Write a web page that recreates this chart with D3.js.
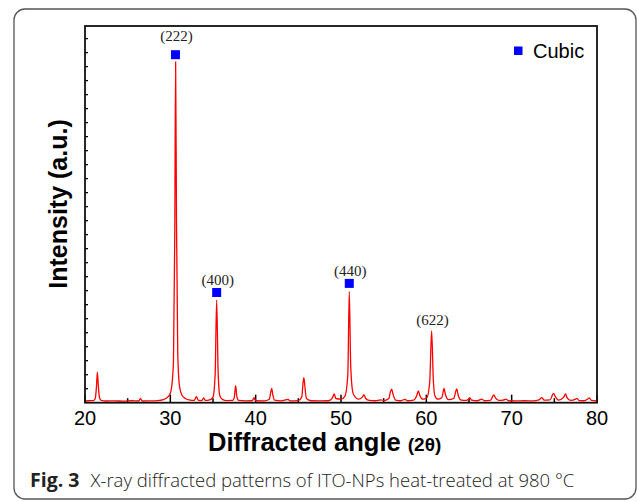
<!DOCTYPE html>
<html>
<head>
<meta charset="utf-8">
<script src="https://cdn.jsdelivr.net/npm/d3@7"></script>
<style>
  body { margin: 0; background: #fff; }
  svg { display: block; }
</style>
</head>
<body>
<svg id="chart" width="637" height="502"></svg>
<script>
// angle (2θ) and intensity (a.u.)
let angles = [20.0,20.5,21.0,21.2,21.35,21.45,21.55,21.7,21.9,22.5,23.5,24.5,25.5,26.3,26.5,26.7,27.5,28.5,
  29.2,29.6,29.95,30.15,30.37,30.52,30.62,30.72,30.87,31.07,31.35,31.75,32.2,32.8,33.05,33.3,33.7,33.9,34.1,34.6,
  35.0,35.25,35.43,35.6,35.8,36.1,36.6,37.3,37.5,37.65,37.8,38.0,38.8,39.6,39.8,40.0,41.0,41.6,41.75,41.88,
  42.0,42.2,43.0,43.8,44.0,45.0,45.4,45.55,45.65,45.78,45.95,46.5,47.5,48.5,49.0,49.2,49.4,50.0,50.45,50.8,
  50.97,51.14,51.4,51.7,52.05,52.5,52.7,52.9,53.3,54.0,54.7,55.0,55.6,55.8,55.94,56.1,56.4,57.0,57.5,57.8,
  58.5,58.9,59.06,59.25,59.6,60.05,60.4,60.62,60.82,61.0,61.35,61.8,62.0,62.07,62.25,62.6,63.2,63.45,63.56,63.75,
  64.1,64.7,65.0,65.1,65.3,66.0,66.5,66.8,67.5,67.9,68.1,68.5,69.0,69.35,69.6,70.5,71.5,72.5,73.2,73.55,
  73.8,74.5,74.9,75.1,75.5,76.1,76.3,76.5,76.9,77.5,77.65,77.9,78.5,79.0,79.1,79.35,80.0];
let intensity = [12,14,15,30,120,219,130,35,16,12,13,11,14,12,30,12,13,15,
  22,35,60,110,300,1200,2434,1300,350,120,55,30,20,16,43,16,15,34,16,20,
  40,200,733,220,50,24,15,16,40,121,42,16,13,14,36,14,13,25,70,103,
  60,18,13,24,13,15,40,140,179,110,30,14,13,14,35,62,30,25,45,200,
  793,260,70,38,25,40,55,30,16,14,20,15,30,80,96,60,18,14,24,14,
  18,55,84,50,25,35,150,512,160,50,25,35,85,103,55,22,30,80,98,50,
  18,16,30,36,18,14,26,14,16,55,35,16,18,26,14,13,14,13,20,36,
  18,20,67,45,18,40,62,35,16,25,31,15,14,30,34,16,12];

// indexed peaks: label, angle, marker intensity, label intensity
let peakNames = ["(222)", "(400)", "(440)", "(622)"];
let peakAngles = [30.6, 35.43, 50.97, 60.62];
let markerLevel = [2485, 787, 852, null];
let labelLevel = [2585, 844, 907, 556];

let xTicks = [20, 30, 40, 50, 60, 70, 80];
let xMinor = [25, 35, 45, 55, 65, 75];
let yTicks = d3.range(100, 2700, 100);

let svg = d3.select("#chart");
let margin = {top: 26, right: 40, bottom: 99.3, left: 85};
let W = 637, H = 502;
let iw = W - margin.left - margin.right;
let ih = H - margin.top - margin.bottom;

// outer figure frame
svg.append("rect")
  .attr("x", 14).attr("y", 9)
  .attr("width", 622).attr("height", 490)
  .attr("rx", 11)
  .attr("fill", "none").attr("stroke", "#555").attr("stroke-width", 1.3);

let g = svg.append("g").attr("transform", `translate(${margin.left},${margin.top})`);

let x = d3.scaleLinear().domain([20, 80]).range([0, iw]);
let y = d3.scaleLinear().domain([0, 2690]).range([ih, 0]);

// ticks, pointing inward
g.append("g").selectAll("line").data(xTicks).enter().append("line")
  .attr("x1", d => x(d)).attr("x2", d => x(d))
  .attr("y1", ih).attr("y2", ih - 8)
  .attr("stroke", "#000").attr("stroke-width", 1.5);
g.append("g").selectAll("line").data(xMinor).enter().append("line")
  .attr("x1", d => x(d)).attr("x2", d => x(d))
  .attr("y1", ih).attr("y2", ih - 4.5)
  .attr("stroke", "#000").attr("stroke-width", 1.5);
g.append("g").selectAll("line").data(yTicks).enter().append("line")
  .attr("x1", 0).attr("x2", 3)
  .attr("y1", d => y(d)).attr("y2", d => y(d))
  .attr("stroke", "#000").attr("stroke-width", 1.3);

g.append("g").selectAll("text").data(xTicks).enter().append("text")
  .attr("x", d => x(d)).attr("y", ih + 22)
  .attr("text-anchor", "middle")
  .style("font-family", "'Liberation Sans', Arial, sans-serif")
  .style("font-size", "20px")
  .text(d => d);

// trace
let pts = angles.map((a, i) => [a, intensity[i]]);
let line = d3.line()
  .x(d => x(d[0]))
  .y(d => y(d[1]))
  .curve(d3.curveMonotoneX);
g.append("path")
  .datum(pts)
  .attr("d", line)
  .attr("fill", "none")
  .attr("stroke", "#ff0000")
  .attr("stroke-width", 1.3);

// frame
g.append("rect")
  .attr("width", iw).attr("height", ih)
  .attr("fill", "none").attr("stroke", "#111").attr("stroke-width", 1.8);

// peak markers and labels
peakNames.forEach((name, i) => {
  if (markerLevel[i] !== null) {
    g.append("rect")
      .attr("x", x(peakAngles[i]) - 4.5)
      .attr("y", y(markerLevel[i]) - 4.5)
      .attr("width", 9).attr("height", 9)
      .attr("fill", "#0000ff");
  }
  g.append("text")
    .attr("x", x(peakAngles[i]) + 1)
    .attr("y", y(labelLevel[i]))
    .attr("text-anchor", "middle")
    .style("font-family", "'Liberation Serif', 'Times New Roman', serif")
    .style("font-size", "15px")
    .attr("fill", "#222")
    .text(name);
});

// legend
g.append("rect")
  .attr("x", 429).attr("y", 20.5)
  .attr("width", 8.5).attr("height", 8.5)
  .attr("fill", "#0000ff");
g.append("text")
  .attr("x", 448).attr("y", 32)
  .style("font-family", "'Liberation Sans', Arial, sans-serif")
  .style("font-size", "20px")
  .text("Cubic");

// axis titles
svg.append("text")
  .attr("transform", "translate(67,204) rotate(-90)")
  .attr("text-anchor", "middle")
  .style("font-family", "'Liberation Sans', Arial, sans-serif")
  .style("font-size", "25px")
  .style("font-weight", "bold")
  .text("Intensity (a.u.)");

let xt = svg.append("text")
  .attr("x", 208).attr("y", 451)
  .style("font-family", "'Liberation Sans', Arial, sans-serif")
  .style("font-weight", "bold");
xt.append("tspan").style("font-size", "25.5px").text("Diffracted angle ");
xt.append("tspan").style("font-size", "19px").text("(2θ)");

// caption
let cap = svg.append("text")
  .attr("x", 30).attr("y", 487)
  .style("font-family", "'Open Sans', sans-serif")
  .attr("fill", "#222");
cap.append("tspan").style("font-weight", "bold").style("font-size", "19.5px").text("Fig. 3");
cap.append("tspan").attr("x", 90.5).style("font-weight", "300").style("font-size", "18.5px")
  .text("X-ray diffracted patterns of ITO-NPs heat-treated at 980 °C");
</script>
</body>
</html>
